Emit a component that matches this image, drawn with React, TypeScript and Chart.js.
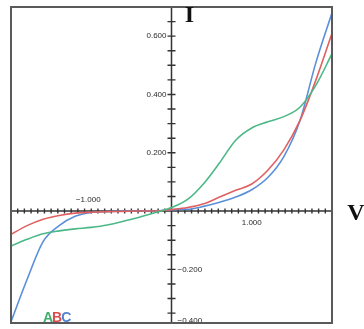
import React, { useEffect, useRef } from "react";
import { Chart, registerables } from "chart.js";

Chart.register(...registerables);

const VOLTAGE = [-2.0, -1.8, -1.6, -1.4, -1.2, -1.0, -0.8, -0.6, -0.4, -0.2, 0, 0.2, 0.4, 0.6, 0.8, 1.0, 1.2, 1.4, 1.6, 1.8, 2.0];
const CURRENT_A = [-0.12, -0.097, -0.078, -0.068, -0.061, -0.056, -0.048, -0.035, -0.021, -0.005, 0.012, 0.04, 0.094, 0.166, 0.243, 0.285, 0.306, 0.324, 0.356, 0.432, 0.54];
const CURRENT_B = [-0.08, -0.05, -0.028, -0.015, -0.007, -0.004, -0.002, -0.001, 0, 0, 0.005, 0.012, 0.025, 0.048, 0.071, 0.093, 0.14, 0.21, 0.31, 0.45, 0.61];
const CURRENT_C = [-0.38, -0.235, -0.105, -0.05, -0.018, -0.005, -0.002, 0, 0, 0, 0.005, 0.006, 0.016, 0.03, 0.048, 0.073, 0.115, 0.187, 0.31, 0.51, 0.68];

const SERIES_NAMES = ["A", "B", "C"];
const SERIES_COLORS = ["#4cb888", "#e06060", "#5b8fd9"];
const LEGEND_COLORS = ["#3fae72", "#dc4c4c", "#4f82d4"];

const Y_LABEL_VALUES = [0.6, 0.4, 0.2, -0.2, -0.4];
const Y_LABELS = ["0.600", "0.400", "0.200", "\u22120.200", "\u22120.400"];
const X_LABEL_VALUES = [-1, 1];
const X_LABELS = ["\u22121.000", "1.000"];

const X_MIN = -2;
const X_MAX = 2;
const Y_MIN = -0.384;
const Y_MAX = 0.7;
const X_MINOR = 1 / 12;
const Y_MINOR = 0.05;

const axesPlugin = {
  id: "crossAxes",
  beforeDatasetsDraw(chart: any) {
    const { ctx, chartArea, scales } = chart;
    const xs = scales.x;
    const ys = scales.y;
    const x0 = xs.getPixelForValue(0);
    const y0 = ys.getPixelForValue(0);
    ctx.save();
    ctx.strokeStyle = "#333";
    ctx.lineWidth = 1.5;
    ctx.beginPath();
    ctx.moveTo(chartArea.left, y0);
    ctx.lineTo(chartArea.right, y0);
    ctx.moveTo(x0, chartArea.top);
    ctx.lineTo(x0, chartArea.bottom);
    ctx.stroke();
    ctx.lineWidth = 1.4;
    ctx.beginPath();
    for (let i = -30; i <= 30; i++) {
      const v = i * X_MINOR;
      if (i === 0 || v <= X_MIN || v >= X_MAX) continue;
      const p = xs.getPixelForValue(v);
      ctx.moveTo(p, y0 - 2.5);
      ctx.lineTo(p, y0 + 2.5);
    }
    for (let i = -20; i <= 20; i++) {
      const v = i * Y_MINOR;
      if (i === 0 || v <= Y_MIN || v >= Y_MAX) continue;
      const p = ys.getPixelForValue(v);
      ctx.moveTo(x0 - 4, p);
      ctx.lineTo(x0 + 4, p);
    }
    ctx.stroke();

    ctx.fillStyle = "#2a2a2a";
    ctx.font = "8px 'Liberation Sans', Arial, sans-serif";
    ctx.textBaseline = "middle";
    Y_LABEL_VALUES.forEach((v, i) => {
      let p = ys.getPixelForValue(v);
      p = Math.min(p, chartArea.bottom - 2);
      if (v > 0) {
        ctx.textAlign = "right";
        ctx.fillText(Y_LABELS[i], x0 - 5, p);
      } else {
        ctx.textAlign = "left";
        ctx.fillText(Y_LABELS[i], x0 + 6, p);
      }
    });
    ctx.textAlign = "center";
    X_LABEL_VALUES.forEach((v, i) => {
      const p = xs.getPixelForValue(v);
      if (v < 0) ctx.fillText(X_LABELS[i], p - 3, y0 - 11);
      else ctx.fillText(X_LABELS[i], p, y0 + 12);
    });
    ctx.restore();
  },
  afterDatasetsDraw(chart: any) {
    const { ctx, chartArea, scales } = chart;
    const x0 = scales.x.getPixelForValue(0);
    const y0 = scales.y.getPixelForValue(0);
    ctx.save();
    ctx.strokeStyle = "#5a5a5a";
    ctx.lineWidth = 2;
    ctx.strokeRect(chartArea.left, chartArea.top, chartArea.right - chartArea.left, chartArea.bottom - chartArea.top);

    ctx.fillStyle = "#111";
    ctx.font = "bold 24px 'Liberation Serif', 'Times New Roman', serif";
    ctx.textBaseline = "alphabetic";
    ctx.textAlign = "center";
    ctx.fillText("I", x0 + 18, chartArea.top + 15);
    ctx.fillText("V", chartArea.right + 24, y0 + 9);

    ctx.font = "bold 14px 'Liberation Sans', Arial, sans-serif";
    ctx.textAlign = "left";
    let lx = chartArea.left + 32;
    SERIES_NAMES.forEach((n, i) => {
      ctx.fillStyle = LEGEND_COLORS[i];
      ctx.fillText(n, lx, chartArea.bottom - 1);
      lx += ctx.measureText(n).width - 1;
    });
    ctx.restore();
  },
};

export default function App() {
  const ref = useRef<HTMLCanvasElement>(null);
  useEffect(() => {
    if (!ref.current) return;
    const series = [CURRENT_A, CURRENT_B, CURRENT_C];
    const chart = new Chart(ref.current, {
      type: "line",
      data: {
        datasets: series.map((vals, i) => ({
          label: SERIES_NAMES[i],
          data: VOLTAGE.map((x, j) => ({ x, y: vals[j] })),
          borderColor: SERIES_COLORS[i],
          borderWidth: 1.6,
          pointRadius: 0,
          fill: false,
          cubicInterpolationMode: "monotone" as const,
        })),
      },
      options: {
        animation: false,
        responsive: false,
        layout: { padding: { left: 11, top: 7, right: 32, bottom: 6 } },
        plugins: { legend: { display: false }, tooltip: { enabled: false } },
        scales: {
          x: { type: "linear", min: X_MIN, max: X_MAX, display: false },
          y: { type: "linear", min: Y_MIN, max: Y_MAX, display: false },
        },
      },
      plugins: [axesPlugin],
    });
    return () => chart.destroy();
  }, []);
  return (
    <div style={{ position: "fixed", left: 0, top: 0, width: 364, height: 329, background: "#fff" }}>
      <canvas ref={ref} width={364} height={329} style={{ display: "block" }} />
    </div>
  );
}
